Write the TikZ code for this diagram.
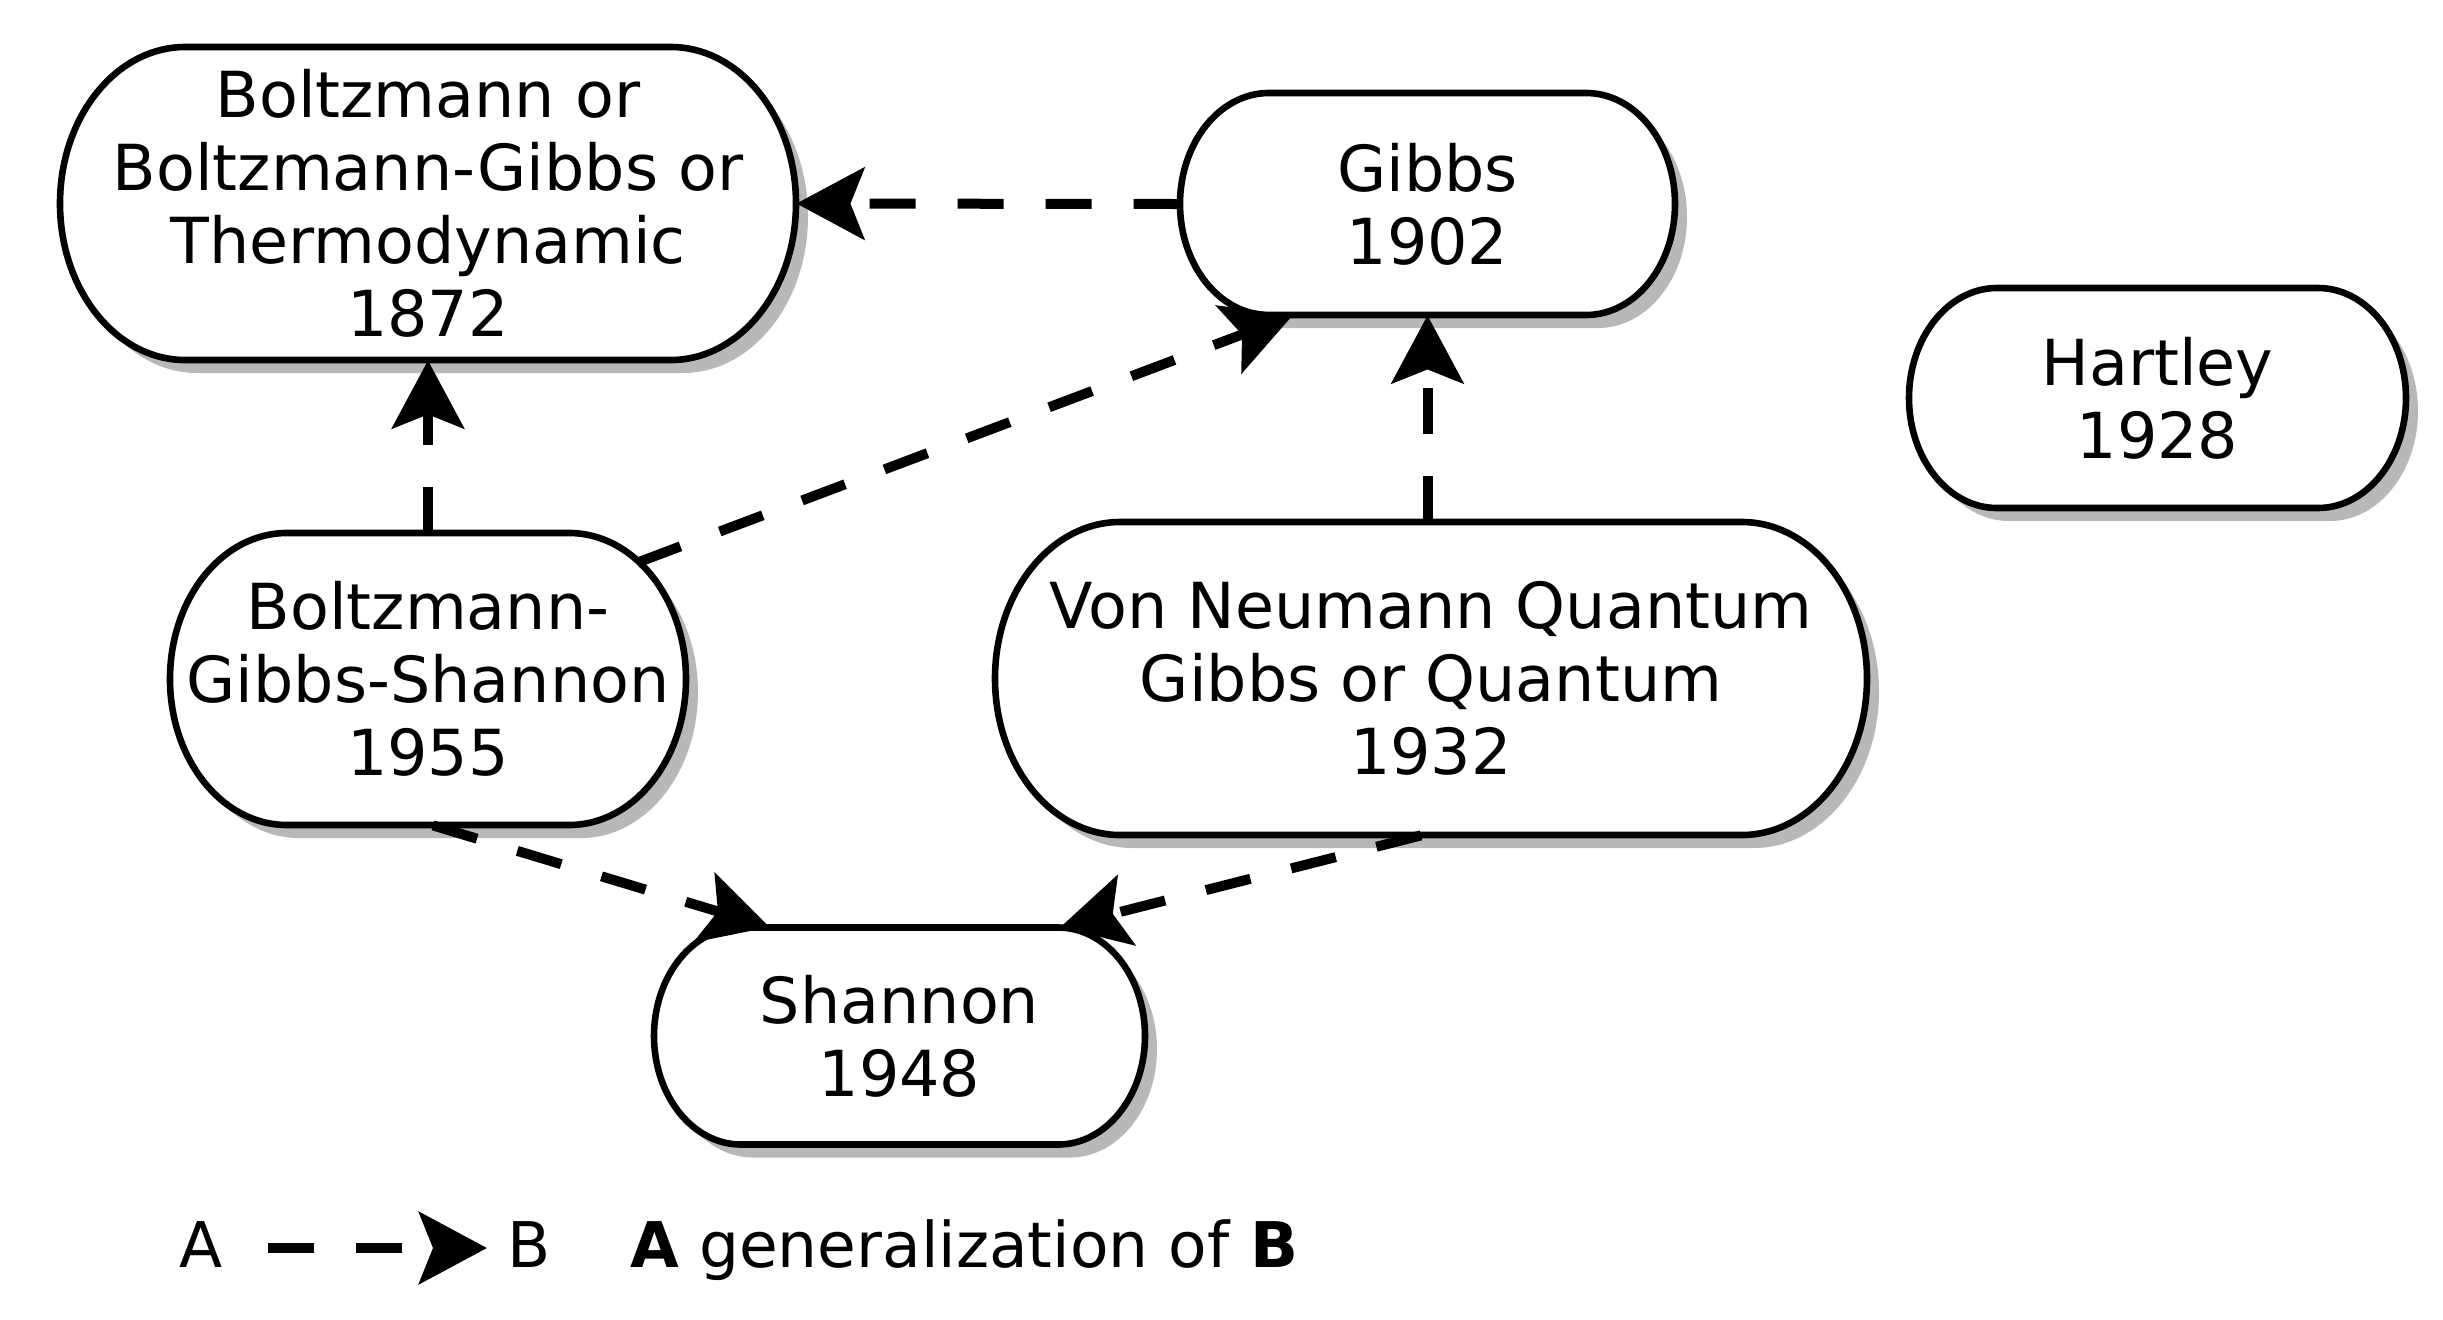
\documentclass[tikz,border=0pt]{standalone}
\usepackage{fontspec}
\setmainfont{DejaVu Sans}
\usetikzlibrary{arrows.meta,shadows,backgrounds}
\tikzset{
  capsule/.style={draw=black, line width=3.3pt, fill=white,
    drop shadow={shadow xshift=6pt, shadow yshift=-6.5pt, fill=black!28, opacity=1}},
  boxtext/.style={inner sep=0pt, align=center, font=\fontsize{31.75}{36.5}\selectfont},
  legtext/.style={inner sep=0pt, font=\fontsize{31.5}{36.5}\selectfont},
  conn/.style={line width=5pt, dash pattern=on 23pt off 21pt,
    -{Stealth[length=34pt,width=36pt,inset=7pt]}},
}
\newcommand\drawcapsule[6]{%
  \pgfmathsetmacro\cL{#2-#4/2}%
  \pgfmathsetmacro\cR{#2+#4/2}%
  \pgfmathsetmacro\cT{#3-#5/2}%
  \pgfmathsetmacro\cB{#3+#5/2}%
  \pgfmathsetmacro\cA{0.4*#5}%
  \pgfmathsetmacro\cK{0.5523*\cA}%
  \pgfmathsetmacro\cKb{0.5523*#5/2}%
  \begin{pgfonlayer}{background}
  \draw[capsule] (\cL+\cA,\cT) -- (\cR-\cA,\cT)
    .. controls (\cR-\cA+\cK,\cT) and (\cR,#3-\cKb) .. (\cR,#3)
    .. controls (\cR,#3+\cKb) and (\cR-\cA+\cK,\cB) .. (\cR-\cA,\cB)
    -- (\cL+\cA,\cB)
    .. controls (\cL+\cA-\cK,\cB) and (\cL,#3+\cKb) .. (\cL,#3)
    .. controls (\cL,#3-\cKb) and (\cL+\cA-\cK,\cT) .. cycle;
  \end{pgfonlayer}
  \node[boxtext, minimum width=#4*0.5pt, minimum height=#5*0.5pt] (#1) at (#2,#3) {#6};
}
\begin{document}
\begin{tikzpicture}[x=0.5pt,y=-0.5pt]
\begin{pgfonlayer}{background}
\fill[white] (0,0) rectangle (2443,1319);
\end{pgfonlayer}
\useasboundingbox (0,0) rectangle (2443,1319);

\drawcapsule{boltz}{428}{203.5}{736}{313}{Boltzmann or\\Boltzmann-Gibbs or\\Thermodynamic\\1872}
\drawcapsule{gibbs}{1427.5}{204}{495}{222}{Gibbs\\1902}
\drawcapsule{hartley}{2157.5}{398}{497}{220}{Hartley\\1928}
\drawcapsule{bgs}{428}{679}{516}{292}{Boltzmann-\\Gibbs-Shannon\\1955}
\drawcapsule{vn}{1431}{678.5}{872}{313}{Von Neumann Quantum\\Gibbs or Quantum\\1932}
\drawcapsule{shannon}{899.5}{1036}{491}{217}{Shannon\\1948}

% connectors
\draw[conn] (gibbs.west) -- (boltz.east);
\draw[conn] (bgs.north) -- (bgs.north |- boltz.south);
\draw[conn] ([xshift=-24.5pt,yshift=-15pt]bgs.north east) -- ([xshift=56.5pt]gibbs.south west);
\draw[conn] (gibbs.south |- vn.north) -- (gibbs.south);
\draw[conn] ([xshift=2.5pt]bgs.south) -- ([xshift=58pt]shannon.north west);
\draw[conn] ([xshift=-5pt]vn.south) -- ([xshift=-42.5pt]shannon.north east);

% legend
\node[legtext, anchor=base west] (legA) at (179,1267) {A};
\node[legtext, anchor=base west] (legB) at (507,1267) {B};
\node[legtext, anchor=base west] (legT) at (630,1267) {\textbf{A} generalization of \textbf{B}};
\coordinate (lgs) at (268,1248);
\coordinate (lge) at (487,1248);
\draw[conn] (lgs) -- (lge);
\end{tikzpicture}
\end{document}
